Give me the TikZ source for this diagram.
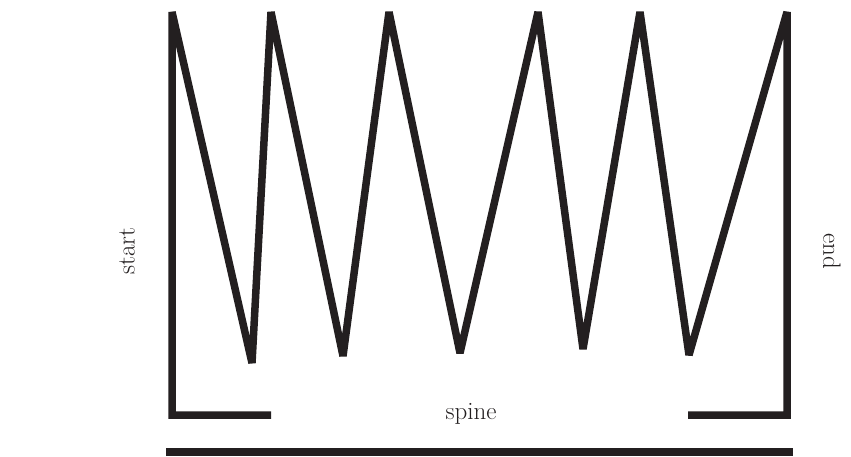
\documentclass[tikz,border=0pt]{standalone}
\definecolor{ink}{HTML}{231F20}
\tikzset{
  frame/.style={draw=ink, line width=7.5pt, line join=miter, miter limit=2, line cap=butt},
  lbl/.style={text=ink, font=\fontsize{25}{28}\selectfont, inner sep=0pt}
}
\begin{document}
\begin{tikzpicture}[x=1pt,y=-1pt]
\useasboundingbox (0,0) rectangle (851,456);
% zigzag with side frame
\draw[frame] (271,415) -- (172,415) -- (172,12)
  -- (252,363) -- (271,12)
  -- (343,356) -- (389,12)
  -- (460,353) -- (538,12)
  -- (583,349) -- (640,12)
  -- (689,355) -- (787,12)
  -- (787,415) -- (688,415);
% bottom bar
\draw[frame] (166,452) -- (793,452);
% labels
\node[lbl, rotate=90] (start) at (127,251) {start};
\node[lbl, rotate=-90] (end) at (832,251) {end};
\node[lbl] (spine) at (471,414) {spine};
\end{tikzpicture}
\end{document}
